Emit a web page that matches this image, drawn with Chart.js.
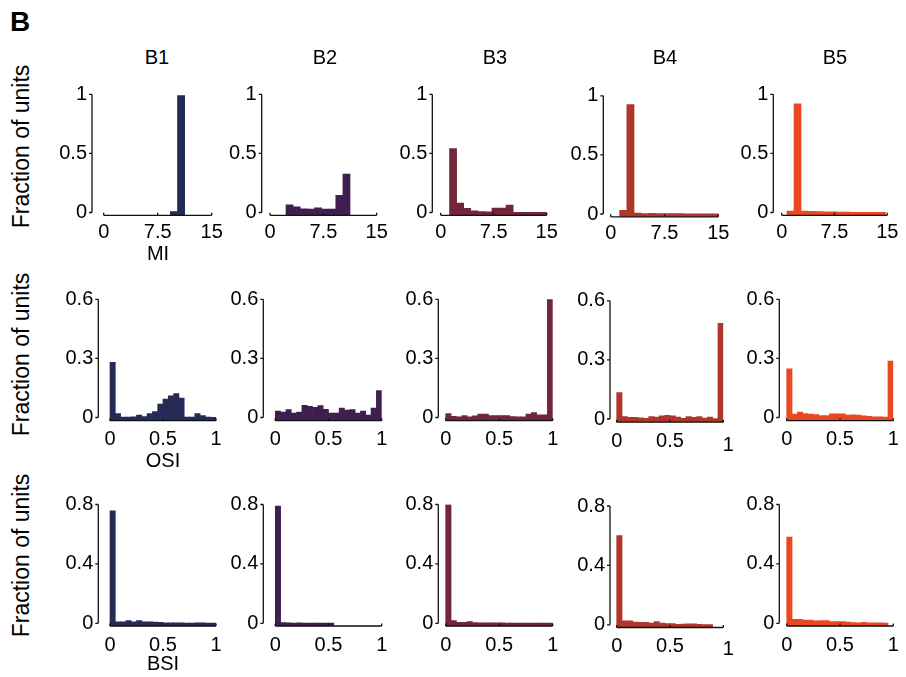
<!DOCTYPE html>
<html>
<head>
<meta charset="utf-8">
<script src="https://cdn.jsdelivr.net/npm/chart.js@4.4.0/dist/chart.umd.min.js"></script>
<style>
    html, body { margin: 0; padding: 0; background: #fff; }
    #figure { position: relative; width: 906px; height: 677px; overflow: hidden;
              font-family: "Liberation Sans", Arial, sans-serif; color: #000; }
    #figure canvas { position: absolute; }
    .lbl { position: absolute; font-size: 20px; line-height: 20px; white-space: nowrap; transform: translateX(-50%); }
    .panel { position: absolute; font-size: 28px; line-height: 28px; font-weight: bold; }
    .ylab { position: absolute; width: 200px; height: 23px; font-size: 23px; line-height: 23px;
            text-align: center; white-space: nowrap; transform: rotate(-90deg); }
</style>
</head>
<body>
<div id="figure"></div>
<script>
// groups (columns)
const GROUPS = ['B1', 'B2', 'B3', 'B4', 'B5'];

// bin centres
const MI_BINS = [0.75, 1.75, 2.75, 3.75, 4.75, 5.75, 6.75, 7.75, 8.75, 9.75, 10.75, 11.75, 12.75, 13.75, 14.75];
const MI_BINS_B5 = [1.25, 2.25, 3.25, 4.25, 5.25, 6.25, 7.25, 8.25, 9.25, 10.25, 11.25, 12.25, 13.25, 14.25];
const INDEX_BINS = [0.025, 0.075, 0.125, 0.175, 0.225, 0.275, 0.325, 0.375, 0.425, 0.475,
                    0.525, 0.575, 0.625, 0.675, 0.725, 0.775, 0.825, 0.875, 0.925, 0.975];

// fraction of units, MI
const MI_B1 = [0, 0, 0, 0, 0, 0, 0, 0, 0, 0.008, 0.99, 0, 0, 0, 0];
const MI_B2 = [0, 0, 0.065, 0.047, 0.03, 0.028, 0.04, 0.028, 0.028, 0.145, 0.325, 0, 0, 0, 0];
const MI_B3 = [0, 0.54, 0.08, 0.035, 0.015, 0.008, 0.005, 0.038, 0.038, 0.063, 0.001, 0.001, 0.001, 0.001, 0.001];
const MI_B4 = [0, 0.03, 0.925, 0.008, 0.004, 0.006, 0.004, 0.004, 0.004, 0.003, 0.002, 0.001, 0.001, 0.001, 0.001];
const MI_B5 = [0.012, 0.92, 0.012, 0.01, 0.008, 0.005, 0.005, 0.004, 0.004, 0.002, 0.002, 0.001, 0.001, 0.001];

// fraction of units, OSI
const OSI_B1 = [0.28, 0.02, 0.002, 0.002, 0.003, 0.012, 0.005, 0.02, 0.03, 0.068, 0.093, 0.11, 0.122, 0.098, 0.002, 0.002, 0.02, 0.01, 0.002, 0.001];
const OSI_B2 = [0.033, 0.028, 0.04, 0.023, 0.028, 0.062, 0.057, 0.052, 0.06, 0.042, 0.022, 0.022, 0.048, 0.038, 0.04, 0.022, 0.032, 0.012, 0.048, 0.137];
const OSI_B3 = [0.02, 0.006, 0.003, 0.01, 0.004, 0.008, 0.017, 0.017, 0.01, 0.01, 0.01, 0.01, 0.005, 0.003, 0.003, 0.017, 0.025, 0.013, 0.013, 0.6];
const OSI_B4 = [0.134, 0.012, 0.008, 0.008, 0.006, 0.004, 0.012, 0.01, 0.016, 0.018, 0.016, 0.01, 0.004, 0.012, 0.008, 0.012, 0.005, 0.01, 0.002, 0.486];
const OSI_B5 = [0.247, 0.017, 0.027, 0.02, 0.017, 0.015, 0.01, 0.01, 0.019, 0.018, 0.018, 0.012, 0.014, 0.012, 0.008, 0.006, 0.004, 0.003, 0.002, 0.287];

// fraction of units, BSI
const BSI_B1 = [0.758, 0.01, 0.01, 0.018, 0.01, 0.018, 0.01, 0.01, 0.008, 0.006, 0.004, 0.004, 0.003, 0.003, 0.002, 0.002, 0.003, 0.003, 0.001, 0.001];
const BSI_B2 = [0.79, 0.005, 0.003, 0.002, 0.003, 0.002, 0.002, 0.001, 0.001, 0.001, 0.001, 0, 0, 0, 0, 0, 0, 0, 0, 0];
const BSI_B3 = [0.8, 0.018, 0.006, 0.006, 0.011, 0.005, 0.004, 0.004, 0.003, 0.003, 0.003, 0.002, 0.002, 0.002, 0.002, 0.001, 0.001, 0.002, 0.001, 0.001];
const BSI_B4 = [0.6, 0.027, 0.027, 0.018, 0.016, 0.016, 0.012, 0.022, 0.012, 0.009, 0.008, 0.004, 0.005, 0.006, 0.007, 0.003, 0.002, 0.001, 0, 0];
const BSI_B5 = [0.58, 0.027, 0.027, 0.022, 0.022, 0.016, 0.018, 0.018, 0.011, 0.011, 0.011, 0.008, 0.005, 0.003, 0.007, 0.004, 0.004, 0.003, 0.001, 0];

// tick labels
const MI_X_TICKS = [0, 7.5, 15];
const MI_Y_TICKS = [0, 0.5, 1];
const INDEX_X_TICKS = [0, 0.5, 1];
const OSI_Y_TICKS = [0, 0.3, 0.6];
const BSI_Y_TICKS = [0, 0.4, 0.8];

const COLORS = ['#252a57', '#3e1f4e', '#722639', '#b0362b', '#e94823'];

// page layout of every panel (pixels): y axis line, x=0, x=max, y=max, y=0, x axis line
const MI_FRAME = { axisX: [92, 261.7, 432.3, 603.3, 773.3], x0: [103.7, 270, 440.7, 610.7, 781.7],
                   x1: [211.7, 376.7, 546.7, 718.3, 887.3], yTop: 94.3, y0: 212.5, axisY: 215.3 };
const OSI_FRAME = { axisX: [98.3, 263.3, 438.3, 610, 779.3], x0: [110, 275.3, 445.7, 616.7, 786.7],
                    x1: [216, 381.7, 552.7, 723.3, 893.3], yTop: 299.3, y0: 417.5, axisY: 420.7 };
const BSI_FRAME = { axisX: [98.3, 263.3, 438.3, 610, 779.3], x0: [110, 275.3, 445.7, 616.7, 786.7],
                    x1: [216, 381.7, 552.7, 723.3, 893.3], yTop: 504.5, y0: 623.3, axisY: 626 };
const COL_DY = [0, 0, 0, 1.5, 0];

const AX_W = 50;   // room for y tick labels
const AX_H = 40;   // room for x tick labels
const PAD = 20;
const FONT = { family: '"Liberation Sans", Arial, sans-serif', size: 20 };

const ROWS = [
    { frame: MI_FRAME, bins: [MI_BINS, MI_BINS, MI_BINS, MI_BINS, MI_BINS_B5],
      values: [MI_B1, MI_B2, MI_B3, MI_B4, MI_B5], xMax: 15, xTicks: MI_X_TICKS, yMax: 1, yTicks: MI_Y_TICKS,
      tickPad: 5, shift: [null, null, null, null, null] },
    { frame: OSI_FRAME, bins: [INDEX_BINS, INDEX_BINS, INDEX_BINS, INDEX_BINS, INDEX_BINS],
      values: [OSI_B1, OSI_B2, OSI_B3, OSI_B4, OSI_B5], xMax: 1, xTicks: INDEX_X_TICKS, yMax: 0.6, yTicks: OSI_Y_TICKS,
      tickPad: 7, shift: [null, null, null, [5, 6], null] },
    { frame: BSI_FRAME, bins: [INDEX_BINS, INDEX_BINS, INDEX_BINS, INDEX_BINS, INDEX_BINS],
      values: [BSI_B1, BSI_B2, BSI_B3, BSI_B4, BSI_B5], xMax: 1, xTicks: INDEX_X_TICKS, yMax: 0.8, yTicks: BSI_Y_TICKS,
      tickPad: 7, shift: [null, null, null, [5, 5], null] }
];

// axis lines that stop at the first/last tick, like the original figure
function axesPlugin(cfg) {
    return {
        id: 'detachedAxes',
        afterDraw(chart) {
            const ctx = chart.ctx;
            const area = chart.chartArea;
            const xs = chart.scales.x;
            const ys = chart.scales.y;
            ctx.save();
            ctx.strokeStyle = '#111';
            ctx.lineWidth = 1.3;
            ctx.beginPath();
            ctx.moveTo(area.left, ys.getPixelForValue(0));
            ctx.lineTo(area.left, ys.getPixelForValue(cfg.yMax));
            cfg.yTicks.forEach(v => {
                const p = ys.getPixelForValue(v);
                ctx.moveTo(area.left - 3, p);
                ctx.lineTo(area.left, p);
            });
            ctx.moveTo(xs.getPixelForValue(0), area.bottom);
            ctx.lineTo(xs.getPixelForValue(cfg.xMax), area.bottom);
            cfg.xTicks.forEach(v => {
                const p = xs.getPixelForValue(v);
                ctx.moveTo(p, area.bottom);
                ctx.lineTo(p, area.bottom - 2.5);
            });
            ctx.stroke();
            // the misplaced "1" label of the B4 panels
            if (cfg.shift) {
                ctx.fillStyle = '#000';
                ctx.font = FONT.size + 'px ' + FONT.family;
                ctx.textAlign = 'center';
                ctx.textBaseline = 'top';
                ctx.fillText(String(cfg.xMax), xs.getPixelForValue(cfg.xMax) + cfg.shift[0], area.bottom + cfg.tickPad + cfg.shift[1]);
            }
            ctx.restore();
        }
    };
}

function makePanel(fig, row, col) {
    const fr = row.frame;
    const dy = COL_DY[col];
    const axisX = fr.axisX[col], x0 = fr.x0[col], x1 = fr.x1[col];
    const yTop = fr.yTop + dy, y0 = fr.y0 + dy, axisY = fr.axisY + dy;

    const left = Math.floor(axisX - AX_W);
    const top = Math.floor(yTop - PAD);
    const width = Math.ceil(x1 + PAD) - left;
    const height = Math.ceil(axisY + AX_H) - top;

    // scale limits so that 0 lands on the detached axes
    const f = (x0 - axisX) / (x1 - axisX);
    const xMin = -f * row.xMax / (1 - f);
    const g = (y0 - yTop) / (axisY - yTop);
    const yMin = row.yMax - row.yMax / g;

    const canvas = document.createElement('canvas');
    canvas.width = width;
    canvas.height = height;
    canvas.style.left = left + 'px';
    canvas.style.top = top + 'px';
    fig.appendChild(canvas);

    const bins = row.bins[col];
    const vals = row.values[col];
    const shift = row.shift[col];
    const cfg = { xMax: row.xMax, yMax: row.yMax, xTicks: row.xTicks, yTicks: row.yTicks, shift: shift, tickPad: row.tickPad };

    new Chart(canvas, {
        type: 'bar',
        data: {
            datasets: [{
                data: bins.map((b, i) => ({ x: b, y: vals[i] > 0 ? vals[i] : null })),
                backgroundColor: COLORS[col],
                borderWidth: 0,
                barPercentage: 1,
                categoryPercentage: 1,
                base: yMin
            }]
        },
        options: {
            responsive: false,
            animation: false,
            devicePixelRatio: 1,
            layout: { padding: { left: axisX - AX_W - left, top: yTop - top, right: left + width - x1, bottom: 0 } },
            plugins: { legend: { display: false }, tooltip: { enabled: false } },
            scales: {
                x: {
                    type: 'linear', offset: false, min: xMin, max: row.xMax,
                    grid: { display: false, drawTicks: false }, border: { display: false },
                    afterBuildTicks: s => { s.ticks = row.xTicks.map(v => ({ value: v })); },
                    afterFit: s => { s.height = top + height - axisY; },
                    ticks: { padding: row.tickPad, maxRotation: 0, autoSkip: false, color: '#000', font: FONT,
                             callback: v => (shift && v === row.xMax) ? '' : String(v) }
                },
                y: {
                    min: yMin, max: row.yMax,
                    grid: { display: false, drawTicks: false }, border: { display: false },
                    afterBuildTicks: s => { s.ticks = row.yTicks.map(v => ({ value: v })); },
                    afterFit: s => { s.width = AX_W; },
                    ticks: { padding: 5, autoSkip: false, color: '#000', font: FONT, callback: v => String(v) }
                }
            }
        },
        plugins: [axesPlugin(cfg)]
    });
}

function addText(fig, cls, text, x, y) {
    const d = document.createElement('div');
    d.className = cls;
    d.textContent = text;
    d.style.left = x + 'px';
    d.style.top = y + 'px';
    fig.appendChild(d);
}

window.onload = function() {
    const fig = document.getElementById('figure');

    ROWS.forEach(row => {
        GROUPS.forEach((grp, col) => makePanel(fig, row, col));
    });

    // panel letter and column titles
    addText(fig, 'panel', 'B', 10, 8);
    const titleX = [157, 325, 495, 665, 835];
    GROUPS.forEach((grp, col) => addText(fig, 'lbl', grp, titleX[col], 47));

    // axis names under the first column
    addText(fig, 'lbl', 'MI', 158, 243);
    addText(fig, 'lbl', 'OSI', 163, 449.5);
    addText(fig, 'lbl', 'BSI', 163, 653);

    // y labels, rotated
    [146, 354, 555.5].forEach(cy => addText(fig, 'ylab', 'Fraction of units', 20.5 - 100, cy - 11.5));
};
</script>
</body>
</html>
